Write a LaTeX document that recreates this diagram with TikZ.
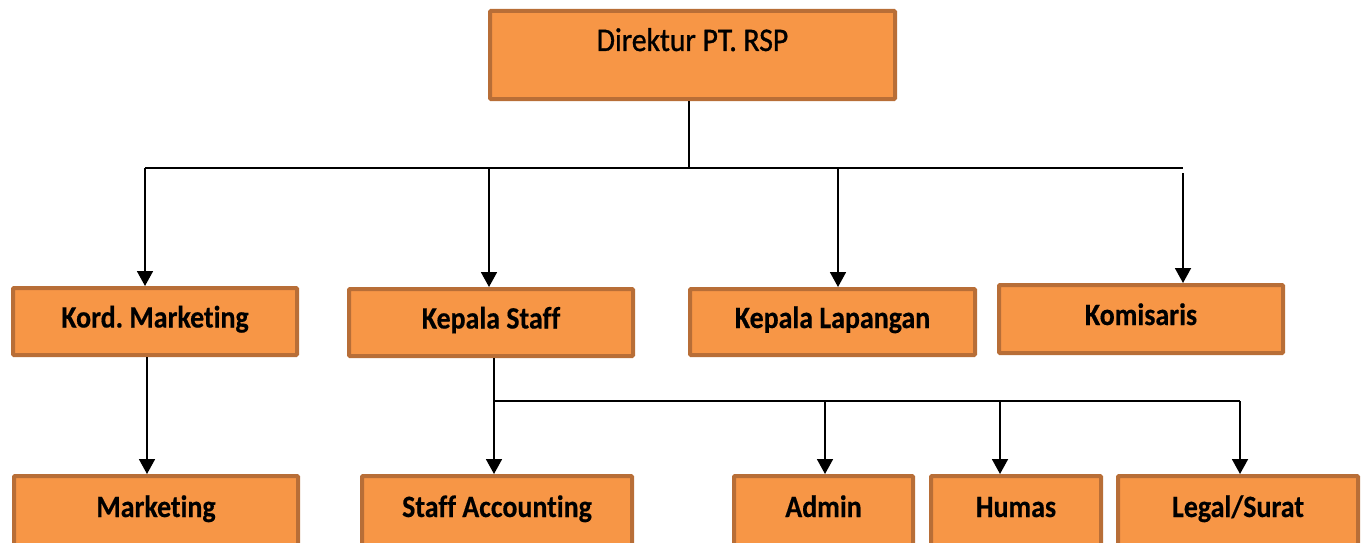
\documentclass[tikz,border=0pt]{standalone}
\usepackage{fontspec}
\setmainfont{Carlito}[FakeStretch=0.9, Ligatures=NoCommon, BoldFeatures={FakeBold=0.4}]
\usetikzlibrary{arrows.meta}
\definecolor{boxfill}{HTML}{F79646}
\definecolor{boxline}{HTML}{B86E37}
\frenchspacing
\begin{document}
\begin{tikzpicture}[x=1pt,y=-1pt,
  orgbox/.style={draw=boxline, fill=boxfill, line width=4pt, rounded corners=1pt, inner sep=0pt,
    font=\fontsize{31}{33}\selectfont\bfseries, text height=18pt, text depth=6pt},
  toprow/.style={orgbox, minimum width=#1, minimum height=67pt},
  lowrow/.style={orgbox, minimum width=#1, minimum height=82pt, text height=17pt, text depth=17pt},
  conn/.style={line width=1.8pt, black},
  arr/.style={conn, -{Triangle[width=16pt,length=15pt]}}]
\useasboundingbox (0,0) rectangle (1362,543);
\clip (0,0) rectangle (1362,543);

% boxes
\node[orgbox, minimum width=405pt, minimum height=88pt, text height=20pt, text depth=28pt,
      font=\fontsize{33}{35}\selectfont\mdseries\addfontfeature{FakeBold=1}] (dir) at (692.5,55) {Direktur PT. RSP};
\node[toprow=284pt] (kord) at (155,321.5) {Kord. Marketing};
\node[toprow=284pt] (kstaff) at (491,322.5) {Kepala Staff};
\node[toprow=285pt, minimum height=66pt] (klap) at (832.5,322) {Kepala Lapangan};
\node[toprow=284pt, minimum height=68pt] (kom) at (1141,319) {Komisaris};
\node[lowrow=284pt] (mkt) at (156,517) {Marketing};
\node[lowrow=270pt] (acc) at (497,517) {Staff Accounting};
\node[lowrow=179pt] (adm) at (823.5,517) {Admin};
\node[lowrow=170pt] (hum) at (1016,517) {Humas};
\node[lowrow=240pt] (leg) at (1238,517) {Legal/Surat};

% junction coordinates
\coordinate (j0) at (689,168);
\coordinate (jl) at (145,168);
\coordinate (jr) at (1183,168);
\coordinate (jrk) at (1183,173);
\coordinate (j1) at (494,401);
\coordinate (j1r) at (1240,401);

% top level
\draw[conn] (dir.south -| j0) -- (j0);
\draw[conn] (jl) -- (jr);
\draw[arr] (jl) -- (jl |- kord.north);
\draw[arr] (489,168) -- (kstaff.north -| 489,0);
\draw[arr] (838,168) -- (klap.north -| 838,0);
\draw[arr] (jrk) -- (jrk |- kom.north);

% Kord -> Marketing
\draw[arr] (kord.south -| 147,0) -- (mkt.north -| 147,0);

% Kepala Staff -> subordinates
\draw[conn] (kstaff.south -| j1) -- (j1);
\draw[arr] (j1) -- (j1 |- acc.north);
\draw[conn] (j1) -- (j1r);
\draw[arr] (825,401) -- (adm.north -| 825,0);
\draw[arr] (1000,401) -- (hum.north -| 1000,0);
\draw[arr] (j1r) -- (j1r |- leg.north);
\end{tikzpicture}
\end{document}
